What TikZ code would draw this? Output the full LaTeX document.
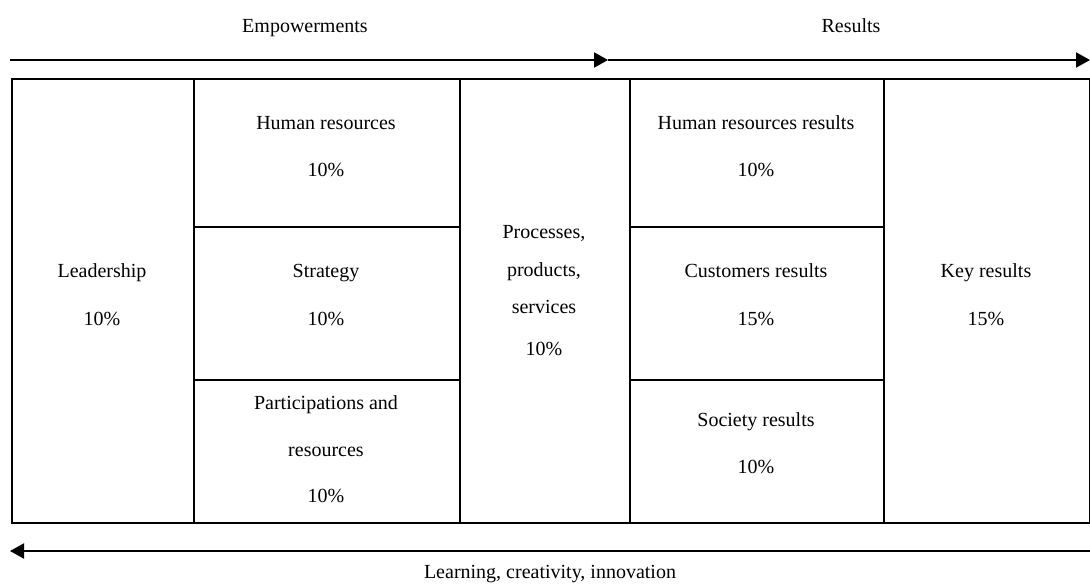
\documentclass[tikz,border=0pt]{standalone}
\usepackage{fontspec}
\setmainfont{Liberation Serif}
\usetikzlibrary{arrows.meta}
\begin{document}
\begin{tikzpicture}[x=1pt,y=-1pt,
  cell/.style={draw, line width=2pt, inner sep=0pt, anchor=north west},
  lbl/.style={font=\fontsize{20}{24}\selectfont, inner sep=0pt, anchor=base},
  arr/.style={line width=2pt, -{Triangle[length=14pt,width=15pt]}}]
\useasboundingbox (0,0) rectangle (1090,584);
% cells
\node[cell, minimum width=182pt, minimum height=444pt] (leadc) at (11,78) {};
\node[cell, minimum width=266pt, minimum height=148pt] (hrc) at (193,78) {};
\node[cell, minimum width=266pt, minimum height=153pt] (stc) at (193,226) {};
\node[cell, minimum width=266pt, minimum height=143pt] (pac) at (193,379) {};
\node[cell, minimum width=170pt, minimum height=444pt] (prc) at (459,78) {};
\node[cell, minimum width=254pt, minimum height=148pt] (hrrc) at (629,78) {};
\node[cell, minimum width=254pt, minimum height=153pt] (cuc) at (629,226) {};
\node[cell, minimum width=254pt, minimum height=143pt] (soc) at (629,379) {};
\node[cell, minimum width=206pt, minimum height=444pt] (keyc) at (883,78) {};
% labels
\node[lbl] (emp) at (305,32) {Empowerments};
\node[lbl] (res) at (851,32) {Results};
\node[lbl] (learn) at (550,578) {Learning, creativity, innovation};
\node[lbl] (lead) at (102,277) {Leadership};
\node[lbl] (leadp) at (102,325) {10\%};
\node[lbl] (hr) at (326,129) {Human resources};
\node[lbl] (hrp) at (326,176) {10\%};
\node[lbl] (st) at (326,277) {Strategy};
\node[lbl] (stp) at (326,325) {10\%};
\node[lbl] (pa1) at (326,409) {Participations and};
\node[lbl] (pa2) at (326,456) {resources};
\node[lbl] (pap) at (326,502) {10\%};
\node[lbl] (pr1) at (544,238) {Processes,};
\node[lbl] (pr2) at (544,276) {products,};
\node[lbl] (pr3) at (544,313) {services};
\node[lbl] (prp) at (544,355) {10\%};
\node[lbl] (hrr) at (756,129) {Human resources results};
\node[lbl] (hrrp) at (756,176) {10\%};
\node[lbl] (cu) at (756,277) {Customers results};
\node[lbl] (cup) at (756,325) {15\%};
\node[lbl] (so) at (756,426) {Society results};
\node[lbl] (sop) at (756,473) {10\%};
\node[lbl] (key) at (986,277) {Key results};
\node[lbl] (keyp) at (986,325) {15\%};
% arrows
\coordinate (tl) at (10,60);
\coordinate (tm) at (608,60);
\coordinate (tr) at (1090,60);
\coordinate (br) at (1090,551);
\coordinate (bl) at (10,551);
\draw[arr] (tl) -- (tm);
\draw[arr] (tm) -- (tr);
\draw[arr] (br) -- (bl);
\end{tikzpicture}
\end{document}
